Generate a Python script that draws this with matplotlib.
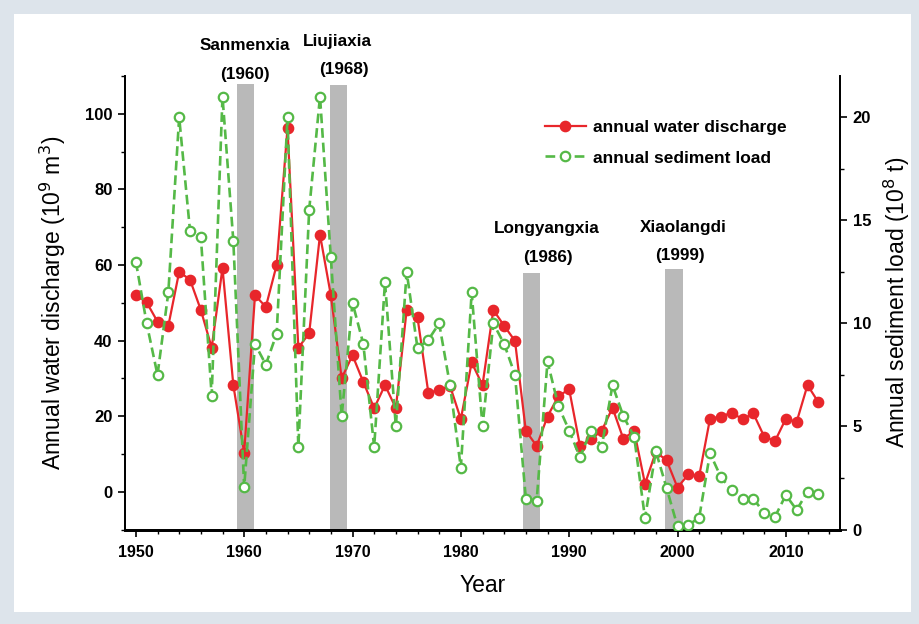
import matplotlib
matplotlib.use("Agg")
import matplotlib.pyplot as plt
from matplotlib.patches import Rectangle
from matplotlib.ticker import MultipleLocator

plt.rcParams['font.family'] = ['Liberation Sans', 'DejaVu Sans']
plt.rcParams['lines.scale_dashes'] = False

# ---- data -------------------------------------------------------------
years = list(range(1950, 2014))

water_discharge = [
    52.0, 50.1, 45.0, 43.9, 58.2, 56.1, 48.1, 38.1, 59.2, 28.2,
    10.3, 52.0, 48.9, 60.0, 96.2, 38.1, 41.9, 68.0, 52.0, 30.0,
    36.1, 29.0, 22.1, 28.2, 22.1, 48.1, 46.1, 26.2, 26.9, 28.0,
    19.2, 34.2, 28.2, 48.1, 43.9, 39.9, 16.1, 12.1, 19.9, 25.3,
    27.1, 12.1, 13.9, 16.1, 22.2, 14.0, 16.1, 2.1, 10.5, 8.3,
    1.1, 4.6, 4.1, 19.3, 19.9, 20.9, 19.2, 20.7, 14.6, 13.4,
    19.3, 18.5, 28.2, 23.7,
]

sediment_load = [
    13.0, 10.0, 7.5, 11.5, 20.0, 14.5, 14.2, 6.5, 21.0, 14.0,
    2.05, 9.0, 8.0, 9.5, 20.0, 4.0, 15.5, 21.0, 13.2, 5.5,
    11.0, 9.0, 4.0, 12.0, 5.0, 12.5, 8.8, 9.2, 10.0, 7.0,
    3.0, 11.5, 5.0, 10.0, 9.0, 7.5, 1.5, 1.4, 8.15, 6.0,
    4.8, 3.5, 4.8, 4.0, 7.0, 5.5, 4.5, 0.55, 3.8, 2.0,
    0.15, 0.22, 0.57, 3.7, 2.55, 1.9, 1.5, 1.5, 0.8, 0.62,
    1.67, 0.95, 1.83, 1.71,
]

# reservoirs: name, year, shaded span (start, end), bar top (discharge axis)
dam_names = ["Sanmenxia", "Liujiaxia", "Longyangxia", "Xiaolangdi"]
dam_years = ["(1960)", "(1968)", "(1986)", "(1999)"]
dam_start = [1959.3, 1967.9, 1985.7, 1998.8]
dam_end = [1960.9, 1969.45, 1987.3, 2000.5]
dam_top = [108.0, 107.6, 57.8, 59.0]

# ---- figure -----------------------------------------------------------
W, H = 919, 624
fig = plt.figure(figsize=(W / 100, H / 100), dpi=100)
fig.patch.set_facecolor('#dde4eb')
fig.add_artist(Rectangle((14 / W, 12 / H), (W - 14 - 8) / W, (H - 12 - 14) / H,
                         transform=fig.transFigure, facecolor='white',
                         edgecolor='none', zorder=-5))

ax1 = fig.add_axes([125 / W, (H - 529.5) / H, (840 - 125) / W, (529.5 - 76) / H])
ax2 = ax1.twinx()

red = '#e8262b'
green = '#55b947'
bar_grey = '#b9b9b9'

ax1.set_xlim(1949, 2015)
ax1.set_ylim(-10, 110)
ax2.set_ylim(0, 22)

# shaded reservoir periods
for s, e, top in zip(dam_start, dam_end, dam_top):
    ax1.bar(s, top + 10, width=e - s, bottom=-10, align='edge',
            color=bar_grey, edgecolor='none', zorder=1)

ln1, = ax1.plot(years, water_discharge, color=red, lw=1.6, marker='o',
                ms=7.4, mfc=red, mec=red, zorder=3,
                label='annual water discharge')
ln2, = ax2.plot(years, sediment_load, color=green, lw=1.9, ls=(0, (7, 3.5)),
                marker='o', ms=6.8, mfc='white', mec=green, mew=1.6,
                zorder=3, label='annual sediment load')

# ---- labels on the shaded bars ----------------------------------------
name_x = [1960.1, 1968.6, 1987.9, 2000.5]
name_y = [118.1, 119.1, 69.6, 70.0]
year_x = [1960.1, 1969.2, 1988.0, 2000.2]
year_y = [110.4, 111.7, 62.0, 62.4]
for nm, yr, nx, ny, yx, yy in zip(dam_names, dam_years, name_x, name_y, year_x, year_y):
    ax1.text(nx, ny, nm, ha='center', va='center', fontsize=12.3, fontweight='bold')
    ax1.text(yx, yy, yr, ha='center', va='center', fontsize=12.3, fontweight='bold')

# ---- axes styling ------------------------------------------------------
for ax in (ax1, ax2):
    ax.spines['top'].set_visible(False)
    ax.spines['left'].set_linewidth(1.3)
    ax.spines['right'].set_linewidth(1.3)
    ax.spines['bottom'].set_linewidth(2.0)

ax1.xaxis.set_major_locator(MultipleLocator(10))
ax1.xaxis.set_minor_locator(MultipleLocator(2))
ax1.yaxis.set_major_locator(MultipleLocator(20))
ax1.yaxis.set_minor_locator(MultipleLocator(10))
ax2.yaxis.set_major_locator(MultipleLocator(5))
ax2.yaxis.set_minor_locator(MultipleLocator(2.5))

ax1.tick_params(axis='both', which='major', direction='out', length=5, width=1.2)
ax1.tick_params(axis='both', which='minor', direction='out', length=3, width=1.0)
ax2.tick_params(axis='y', which='major', direction='out', length=5, width=1.2)
ax2.tick_params(axis='y', which='minor', direction='out', length=3, width=1.0)
ax1.tick_params(axis='y', labelsize=12, pad=4)
ax2.tick_params(axis='y', labelsize=12, pad=4)
ax1.tick_params(axis='x', labelsize=11.5, pad=6)

for lab in ax1.get_yticklabels() + ax2.get_yticklabels() + ax1.get_xticklabels():
    lab.set_fontweight('bold')

ax1.set_xlabel('Year', fontsize=16.5, labelpad=10)
ax1.set_ylabel('Annual water discharge (10$^{9}$ m$^{3}$)', fontsize=16.5, labelpad=12)
ax2.set_ylabel('Annual sediment load (10$^{8}$ t)', fontsize=16.5, labelpad=8)

leg = ax2.legend(handles=[ln1, ln2], loc='upper left',
                 bbox_to_anchor=((529 - 125) / 715, (529.5 - 104) / 453.5),
                 frameon=False, fontsize=12.5, handlelength=2.36,
                 handletextpad=0.4, labelspacing=0.9)
for t in leg.get_texts():
    t.set_fontweight('bold')

fig.savefig('out.png', dpi=100, facecolor=fig.get_facecolor())
